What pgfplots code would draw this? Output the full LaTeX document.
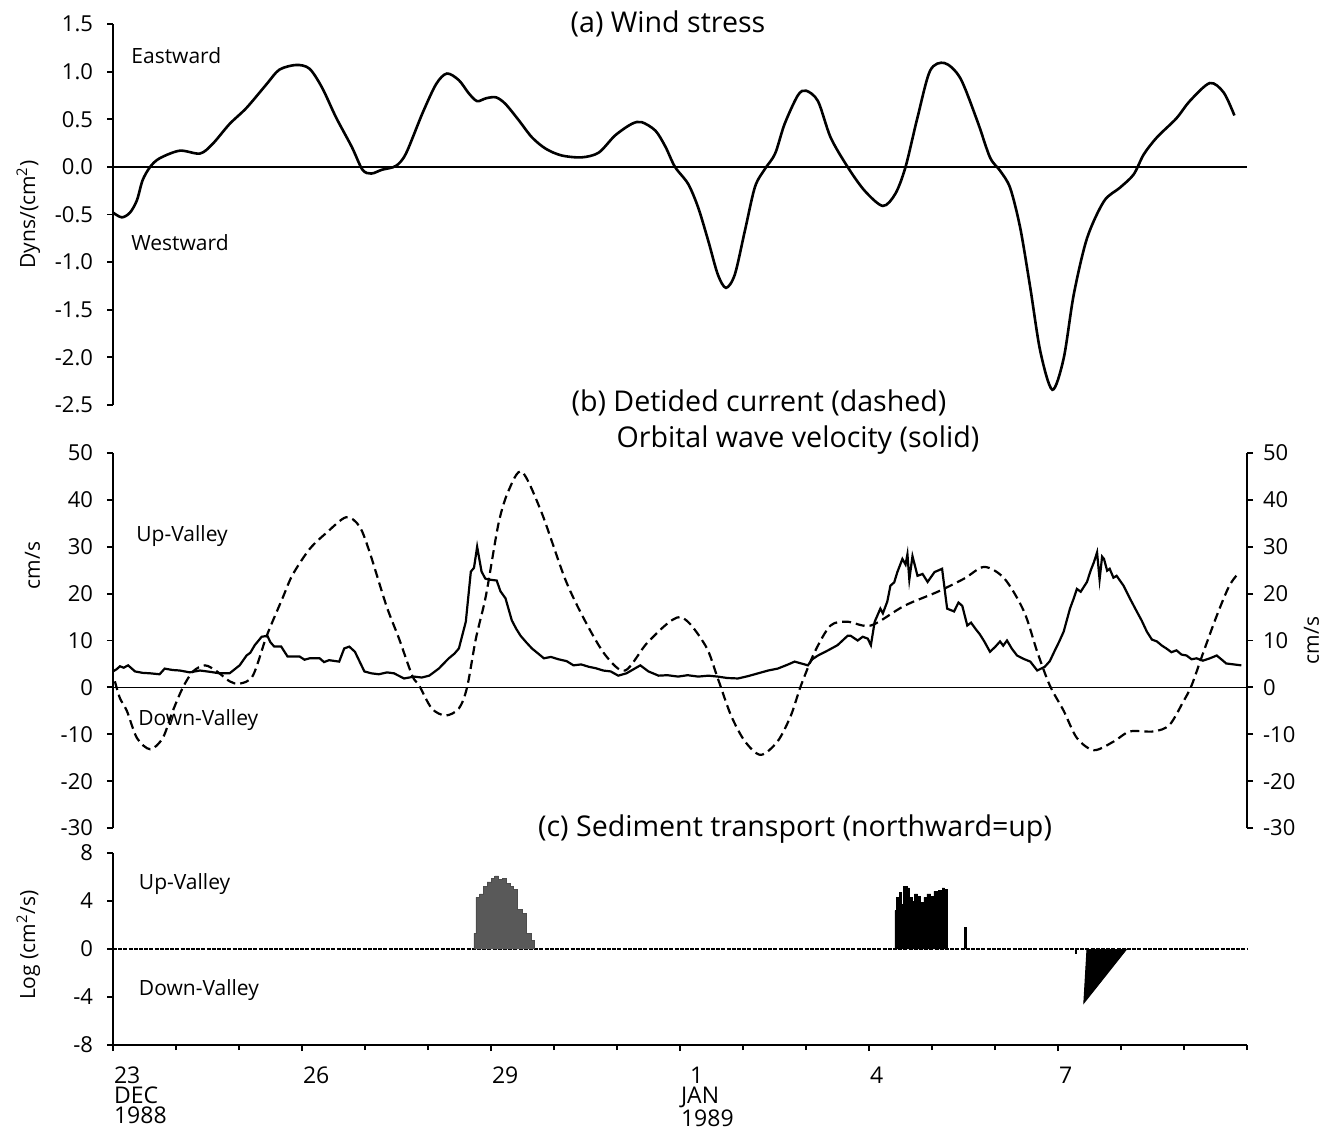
\documentclass[border=0pt]{standalone}
\usepackage{pgfplots}
\pgfplotsset{compat=1.18}
\usepackage{fontspec}
\setmainfont{Open Sans}

\begin{document}
\begin{tikzpicture}
\path[use as bounding box] (-56.5pt,0pt) rectangle (606pt,-566.5pt);
\pgfplotsset{
  base/.style={scale only axis, width=567pt, xmin=23, xmax=41, anchor=south west,
    axis line style={line width=1pt}, tick style={line width=0.9pt, black},
    major tick length=3pt, minor tick length=2.5pt, tick align=outside,
    every tick label/.append style={font=\fontsize{11}{12}\selectfont},
    clip=false},
  ylab/.style={every axis y label/.style={at={(axis description cs:-0.058,#1)}, rotate=90, anchor=south, font=\fontsize{10.5}{12}\selectfont}},
  lefttl/.style={yticklabel style={xshift=-3.5pt}},
}
% ---------------- (a) wind stress
\begin{axis}[base, lefttl, at={(0pt,-202.5pt)}, height=190.5pt, ymin=-2.5, ymax=1.5,
  axis x line=none, axis y line*=left,
  ytick={-2.5,-2,-1.5,-1,-0.5,0,0.5,1,1.5},
  yticklabels={-2.5,-2.0,-1.5,-1.0,-0.5,0.0,0.5,1.0,1.5},
  ylab=0.5, ylabel={Dyns/(cm\textsuperscript{2})}]
\addplot[line width=0.8pt] coordinates {(23,0)(41,0)};
\addplot[line width=1.3pt, smooth, tension=0.5] coordinates {
(23.00,-0.48)(23.14,-0.53)(23.27,-0.48)(23.38,-0.35)(23.47,-0.14)(23.59,0)(23.74,0.09)(24.06,0.17)(24.38,0.14)(24.58,0.24)(24.85,0.45)(25.12,0.62)(25.44,0.87)(25.64,1.02)(25.91,1.07)(26.12,1.03)(26.32,0.83)(26.54,0.52)(26.79,0.21)(26.96,-0.03)(27.10,-0.07)(27.27,-0.03)(27.49,0.01)(27.65,0.14)(27.91,0.56)(28.13,0.87)(28.30,0.98)(28.49,0.91)(28.65,0.77)(28.78,0.69)(28.92,0.72)(29.08,0.73)(29.23,0.66)(29.44,0.49)(29.65,0.31)(29.87,0.19)(30.12,0.12)(30.44,0.10)(30.71,0.15)(30.97,0.33)(31.23,0.45)(31.39,0.47)(31.61,0.38)(31.77,0.21)(31.92,0)(32.13,-0.18)(32.29,-0.43)(32.45,-0.78)(32.60,-1.13)(32.73,-1.27)(32.87,-1.13)(33.03,-0.67)(33.19,-0.21)(33.35,-0.02)(33.51,0.14)(33.66,0.45)(33.87,0.75)(34.00,0.80)(34.19,0.69)(34.39,0.31)(34.66,0)(34.93,-0.25)(35.22,-0.41)(35.42,-0.28)(35.58,0)(35.77,0.52)(35.97,1.01)(36.20,1.09)(36.45,0.93)(36.72,0.48)(36.92,0.10)(37.08,-0.04)(37.24,-0.22)(37.40,-0.64)(37.56,-1.27)(37.72,-1.94)(37.91,-2.34)(38.09,-2.01)(38.25,-1.34)(38.46,-0.75)(38.73,-0.36)(38.98,-0.22)(39.20,-0.08)(39.36,0.13)(39.57,0.31)(39.88,0.51)(40.09,0.69)(40.41,0.88)(40.63,0.78)(40.80,0.54)};
\node[anchor=west, font=\fontsize{10.5}{12}\selectfont] at (axis cs:23.18,1.17) {Eastward};
\node[anchor=west, font=\fontsize{10.5}{12}\selectfont] at (axis cs:23.18,-0.80) {Westward};
\end{axis}
% ---------------- (b) currents
\begin{axis}[base, lefttl, at={(0pt,-414pt)}, height=187.5pt, ymin=-30, ymax=50,
  axis x line=none, axis y line*=left,
  ytick={-30,-20,-10,0,10,20,30,40,50},
  yticklabels={-30,-20,-10,0,10,20,30,40,50},
  ylab=0.70, ylabel={cm/s}]
\addplot[line width=0.8pt] coordinates {(23,0)(41,0)};
\addplot[line width=1.1pt, dash pattern=on 4.5pt off 2.5pt, smooth, tension=0.5] coordinates {
(23.03,1.3)(23.11,-2.3)(23.22,-5)(23.38,-10.8)(23.59,-13.2)(23.79,-10.8)(23.95,-5)(24.11,0)(24.27,3.4)(24.46,4.7)(24.65,3.4)(24.85,1.3)(25.01,0.8)(25.22,2.5)(25.44,11)(25.69,19)(25.85,24)(26.12,29.5)(26.39,33)(26.70,36.3)(26.91,34.4)(27.07,29)(27.34,17.4)(27.54,10.4)(27.75,2.5)(27.86,0.4)(28.06,-4.5)(28.28,-6)(28.49,-4.5)(28.62,0)(28.76,10.4)(28.92,19.6)(29.12,35)(29.28,42)(29.49,46)(29.80,37.4)(30.18,23)(30.50,14)(30.82,6.8)(31.13,3.6)(31.50,9.8)(32.00,15)(32.40,9)(32.60,1.9)(32.81,-6)(33.03,-11.5)(33.28,-14.4)(33.55,-11.5)(33.76,-6)(33.92,0.4)(34.14,7.6)(34.39,13.2)(34.66,14)(35.03,13.2)(35.56,17.4)(36.09,20.4)(36.51,23.2)(36.83,25.7)(37.15,23.2)(37.46,16.2)(37.67,7.6)(37.87,0.4)(38.09,-5)(38.30,-10.8)(38.57,-13.4)(38.89,-11.5)(39.14,-9.4)(39.52,-9.4)(39.77,-8)(39.99,-3)(40.12,0.4)(40.31,7.6)(40.52,15.3)(40.72,21.7)(40.88,24.6)};
\addplot[line width=1.1pt] coordinates {
(23.00,3.4)(23.06,3.9)(23.11,4.5)(23.17,4.2)(23.24,4.7)(23.35,3.4)(23.47,3.1)(23.59,3.0)(23.74,2.8)(23.82,4.0)(23.95,3.7)(24.06,3.6)(24.22,3.2)(24.38,3.6)(24.55,3.3)(24.69,3.0)(24.85,3.0)(25.01,4.7)(25.12,6.8)(25.18,7.4)(25.25,9.0)(25.36,10.8)(25.45,11.0)(25.50,9.6)(25.56,8.7)(25.67,8.7)(25.77,6.6)(25.96,6.6)(26.04,5.9)(26.12,6.2)(26.28,6.2)(26.35,5.4)(26.43,5.8)(26.59,5.5)(26.67,8.3)(26.75,8.7)(26.84,7.6)(26.99,3.4)(27.10,3.0)(27.22,2.8)(27.35,3.2)(27.46,3.0)(27.62,1.9)(27.78,2.3)(27.90,2.1)(28.02,2.5)(28.17,4.0)(28.33,6.2)(28.42,7.2)(28.49,8.3)(28.60,14)(28.68,24.7)(28.73,25.5)(28.78,30)(28.85,24.7)(28.91,23.2)(28.97,23)(29.09,22.8)(29.15,20.5)(29.23,19)(29.33,14.3)(29.40,12.5)(29.47,11)(29.56,9.6)(29.65,8.3)(29.75,7.2)(29.84,6.2)(29.95,6.5)(30.07,6.0)(30.20,5.6)(30.31,4.7)(30.43,4.9)(30.55,4.4)(30.66,4.1)(30.78,3.6)(30.90,3.4)(31.02,2.5)(31.15,3.0)(31.37,4.7)(31.50,3.4)(31.66,2.5)(31.80,2.6)(31.97,2.3)(32.12,2.6)(32.29,2.3)(32.45,2.5)(32.60,2.3)(32.75,2.0)(32.92,1.9)(33.08,2.4)(33.24,3.0)(33.40,3.6)(33.55,4.0)(33.70,4.8)(33.82,5.5)(34.03,4.7)(34.10,6.0)(34.19,6.8)(34.35,7.9)(34.50,9.0)(34.66,11)(34.71,11)(34.82,10)(34.90,10.8)(34.98,10.4)(35.03,9)(35.09,14)(35.18,16.8)(35.22,15.8)(35.29,18.3)(35.34,21.7)(35.40,22.4)(35.45,24.6)(35.53,27.4)(35.58,26.2)(35.61,28.4)(35.64,23)(35.69,28)(35.77,23.8)(35.85,24.2)(35.93,22.5)(36.04,24.6)(36.16,25.3)(36.24,16.8)(36.35,16.2)(36.42,18.1)(36.48,17.4)(36.56,13.2)(36.62,13.8)(36.69,12.5)(36.76,11.3)(36.83,9.8)(36.92,7.6)(37.00,8.6)(37.08,9.8)(37.13,8.9)(37.19,10)(37.27,8.2)(37.35,6.8)(37.45,6.1)(37.56,5.5)(37.67,3.6)(37.79,4.4)(37.87,5.6)(37.94,7.6)(38.02,9.8)(38.09,11.9)(38.19,16.8)(38.25,19.0)(38.30,21)(38.36,20.4)(38.46,22.5)(38.52,25.0)(38.57,26.7)(38.62,28.8)(38.66,23)(38.70,27.9)(38.73,27.4)(38.78,24.9)(38.82,25.3)(38.88,23.4)(38.93,23.8)(39.04,21.7)(39.14,19)(39.25,16.2)(39.33,14.2)(39.41,11.9)(39.49,10.2)(39.57,9.8)(39.65,8.9)(39.72,8.3)(39.80,7.5)(39.88,7.9)(39.96,7.0)(40.04,6.8)(40.12,6.0)(40.20,6.2)(40.30,5.7)(40.41,6.2)(40.52,6.8)(40.60,5.9)(40.67,5.1)(40.91,4.7)};
\node[anchor=west, font=\fontsize{10.5}{12}\selectfont] at (axis cs:23.26,32.3) {Up-Valley};
\node[anchor=west, font=\fontsize{10.5}{12}\selectfont] at (axis cs:23.29,-7.0) {Down-Valley};
\end{axis}
\begin{axis}[base, at={(0pt,-414pt)}, height=187.5pt, ymin=-30, ymax=50,
  axis x line=none, axis y line*=right,
  ytick={-30,-20,-10,0,10,20,30,40,50},
  yticklabels={-30,-20,-10,0,10,20,30,40,50},
  yticklabel style={xshift=1.5pt},
  every axis y label/.style={at={(axis description cs:1.044,0.5)}, rotate=90, anchor=north, font=\fontsize{10.5}{12}\selectfont},
  ylabel={cm/s}]
\end{axis}
% ---------------- (c) sediment transport
\begin{axis}[base, lefttl, at={(0pt,-522.5pt)}, height=96pt, ymin=-8, ymax=8,
  axis x line*=bottom, axis y line*=left,
  ytick={-8,-4,0,4,8}, yticklabels={-8,-4,0,4,8},
  xtick={23,26,29,32,35,38},
  minor xtick={24,25,27,28,30,31,33,34,36,37,39,40,41},
  xticklabels={{23\\DEC\\1988},26,29,{\hspace*{4.5pt}1\\JAN\\1989},4,7},
  xticklabel style={anchor=north west, align=left, font=\fontsize{11.5}{10}\selectfont, yshift=-4.5pt, xshift=-3pt},
  ylab=0.52, ylabel={Log (cm\textsuperscript{2}/s)}]
\addplot[line width=0.6pt, dash pattern=on 2pt off 0.6pt] coordinates {(23,0)(41,0)};
\addplot[const plot, fill=black!65, draw=black!70, line width=0.3pt] coordinates {
(28.73,0)(28.73,1.3)(28.76,4.3)(28.82,4.6)(28.88,5.2)(28.94,5.6)(29.00,5.9)(29.06,6.1)(29.12,5.8)(29.18,5.9)(29.24,5.5)(29.30,5.2)(29.36,5.0)(29.42,3.3)(29.50,3.0)(29.56,1.3)(29.64,0.7)(29.68,0)};
\addplot[const plot, fill=black, draw=black, line width=0.3pt] coordinates {
(35.41,0)(35.41,3.2)(35.44,4.3)(35.48,4.7)(35.52,3.7)(35.55,5.2)(35.60,5.1)(35.64,4.3)(35.68,4.0)(35.72,4.6)(35.77,4.4)(35.82,3.9)(35.87,4.3)(35.92,4.6)(35.98,4.4)(36.03,4.8)(36.10,4.9)(36.16,5.1)(36.20,5.0)(36.25,0)};
\addplot[line width=1.2pt] coordinates {(36.53,0)(36.53,1.8)};
\addplot[line width=1pt] coordinates {(38.28,0)(38.28,-0.4)};
\addplot[fill=black, draw=black, line width=0.5pt] coordinates {(38.46,0)(38.41,-4.5)(39.09,0)};
\node[anchor=west, font=\fontsize{10.5}{12}\selectfont] at (axis cs:23.30,5.4) {Up-Valley};
\node[anchor=west, font=\fontsize{10.5}{12}\selectfont] at (axis cs:23.30,-3.4) {Down-Valley};
\end{axis}
% titles
\node[font=\fontsize{14.3}{16}\selectfont] at (277.5pt,-12pt) {(a) Wind stress};
\node[font=\fontsize{14.3}{16}\selectfont] at (323pt,-201.5pt) {(b) Detided current (dashed)};
\node[font=\fontsize{14.3}{16}\selectfont] at (342.5pt,-220pt) {Orbital wave velocity (solid)};
\node[font=\fontsize{14.3}{16}\selectfont] at (341pt,-414.5pt) {(c) Sediment transport (northward=up)};
\end{tikzpicture}
\end{document}
